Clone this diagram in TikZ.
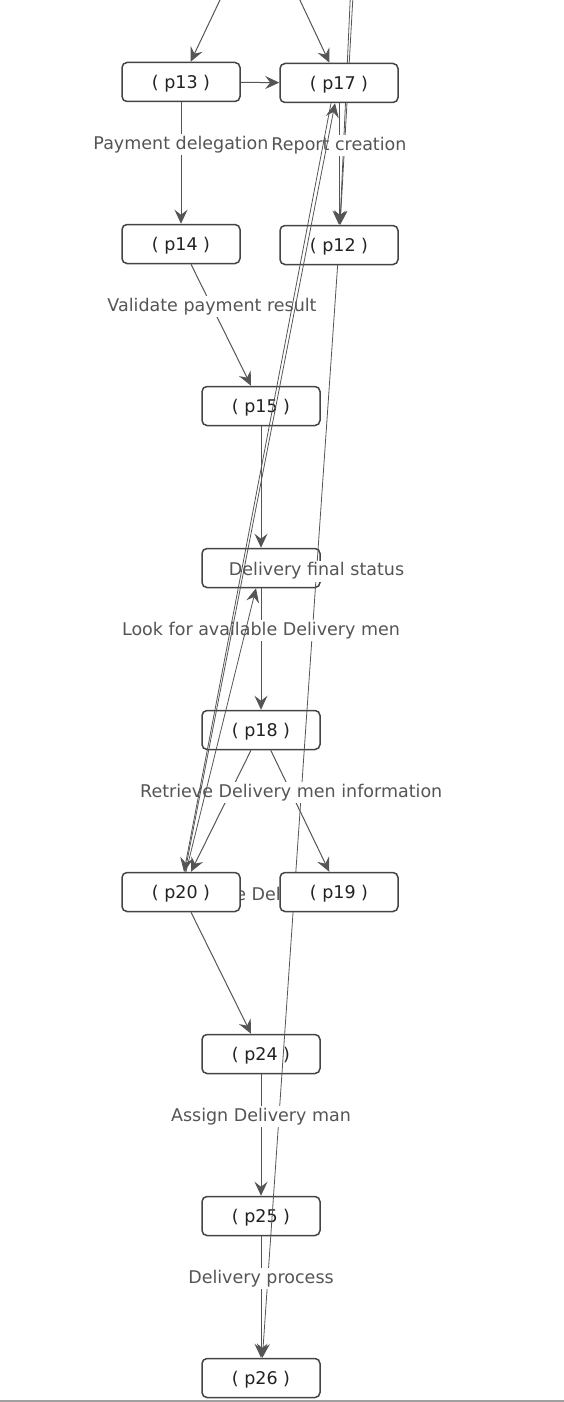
\documentclass[tikz,border=0pt]{standalone}
\usepackage{fontspec}
\setmainfont{DejaVu Sans}
\usepackage{tikz}
\usetikzlibrary{positioning,arrows.meta}

\definecolor{boxline}{HTML}{444444}
\definecolor{edgeline}{HTML}{555555}
\definecolor{labeltext}{HTML}{555555}
\definecolor{nodetext}{HTML}{222222}
\definecolor{frameline}{HTML}{A0A0A0}

\tikzset{
  place/.style={draw=boxline, line width=1.5pt, rounded corners=5pt, fill=white,
    text=nodetext, minimum width=118pt, minimum height=39pt, inner sep=0pt,
    text height=15pt, text depth=2pt},
  flow/.style={draw=edgeline, line width=1pt, -{Stealth[length=14pt,width=13pt,inset=5pt]}},
  lbl/.style={fill=white, text=labeltext, inner sep=2pt, pos=0.35},
}

\begin{document}
\begin{tikzpicture}[x=1pt, y=-1pt, node distance=162pt,
    font=\fontsize{17.5}{21}\selectfont]
  \useasboundingbox (0,0) rectangle (564,1402);
  \clip (0,0) rectangle (564,1402);

  % label mostly hidden behind p20 and p19
  \node[text=labeltext] (hidden) at (258,894) {e Del};

  \node[place] (p13) at (181,82) {( p13 )};
  \node[place] (p14) [below of=p13] {( p14 )};
  \node[place] (p12) at (339,245) {( p12 )};
  \node[place] (p15) [below of=p14, xshift=80pt] {( p15 )};
  \node[place] (p16) [below of=p15] {};
  \node[place] (p18) [below of=p16] {( p18 )};
  \node[place] (p20) [below of=p18, xshift=-80pt] {( p20 )};
  \node[place] (p24) [below of=p20, xshift=80pt] {( p24 )};
  \node[place] (p25) [below of=p24] {( p25 )};
  \node[place] (p26) [below of=p25] {( p26 )};

  % incoming from above the frame
  \coordinate (in13) at (239,-40);
  \coordinate (in17) at (281,-40);
  \coordinate (in12a) at (352,-40);
  \coordinate (in12b) at (355,-40);

  \draw[flow, line width=0.8pt] (in12a) to (p12);
  \draw[flow, line width=0.8pt] (in12b) to (p12);
  \draw[flow, line width=0.8pt] (p12) to node[lbl, pos=0.28] {Delivery final status} (p26);

  \node[place] (p17) [above of=p12] {( p17 )};
  \node[place] (p19) [right of=p20, node distance=158pt] {( p19 )};

  \draw[flow] (in13) to (p13);
  \draw[flow] (in17) to (p17);
  \draw[flow] (p13) to (p17);
  \draw[flow] (p13) to node[lbl] {Payment delegation} (p14);
  \draw[flow] (p17) to node[lbl] {Report creation} (p12);
  \draw[flow] (p14) to node[lbl] {Validate payment result} (p15);
  \draw[flow] (p15) to (p16);
  \draw[flow] (p16) to node[lbl] {Look for available Delivery men} (p18);
  \draw[flow] (p18) to (p20);
  \draw[flow] (p18) to node[lbl] {Retrieve Delivery men information} (p19);
  \draw[flow] (p20) to (p24);
  \draw[flow] (p24) to node[lbl] {Assign Delivery man} (p25);
  \draw[flow] (p25) to node[lbl] {Delivery process} (p26);

  \draw[flow, line width=0.8pt] (p20) to (p16);
  \draw[flow, line width=0.8pt] (p20) to (p17);
  \draw[flow, line width=0.8pt] ([xshift=-8pt]p17.south) to ([xshift=3pt]p20.north);

  \draw[frameline, line width=2pt] (0,1400.5) -- (564,1400.5);
\end{tikzpicture}
\end{document}
